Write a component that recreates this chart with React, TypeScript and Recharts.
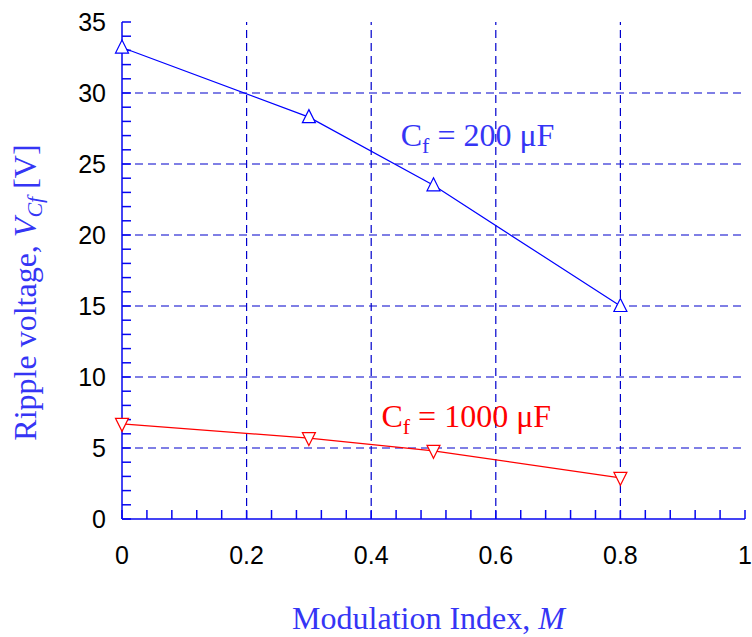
import { LineChart, Line, XAxis, YAxis, ReferenceLine, ReferenceDot } from "recharts"

if (typeof document !== "undefined") document.body.style.margin = "0"

// modulation index M and ripple voltage for each filter capacitor
const modIndex = [0, 0.3, 0.5, 0.8]
const ripple200 = [33.2, 28.3, 23.5, 15.0]
const ripple1000 = [6.7, 5.7, 4.8, 2.9]

const xMajor = [0, 0.2, 0.4, 0.6, 0.8, 1]
const yMajor = [0, 5, 10, 15, 20, 25, 30, 35]
const xMinor = Array.from({ length: 26 }, (_, i) => Math.round(i * 4) / 100)
const yMinor = Array.from({ length: 36 }, (_, i) => i)

const data = modIndex.map((m, i) => ({ m, c200: ripple200[i], c1000: ripple1000[i] }))

const AXIS = "#0606f0"
const GRID = "#0000cc"
const BLUE = "#0000ff"
const RED = "#ff0000"
const TITLE = "#3535f5"
const SERIF = "'Liberation Serif', 'Times New Roman', serif"
const SANS = "'Liberation Sans', Arial, sans-serif"

const isMajor = (list: number[], v: number) => list.some((t) => Math.abs(t - v) < 1e-6)

function XTick(props: any) {
  const { x, y, payload } = props
  if (!isMajor(xMajor, payload.value)) return <g />
  return (
    <text x={x} y={y} dy="0.36em" textAnchor="middle" fill="#000" fontSize={25} fontFamily={SANS}>
      {String(payload.value)}
    </text>
  )
}

function YTick(props: any) {
  const { x, y, payload } = props
  if (!isMajor(yMajor, payload.value)) return <g />
  return (
    <text x={x} y={y} dy="0.36em" textAnchor="end" fill="#000" fontSize={25} fontFamily={SANS}>
      {String(payload.value)}
    </text>
  )
}

function XTitle(props: any) {
  const vb = props.viewBox
  return (
    <text x={vb.x + vb.width / 2 - 5} y={vb.y + 110} textAnchor="middle" fill={TITLE} fontSize={32} fontFamily={SERIF}>
      Modulation Index, <tspan fontStyle="italic">M</tspan>
    </text>
  )
}

function YTitle(props: any) {
  const vb = props.viewBox
  const cy = vb.y + vb.height / 2 + 22
  return (
    <text x={36} y={cy} transform={`rotate(-90, 36, ${cy})`} textAnchor="middle" fill={TITLE} fontSize={32} fontFamily={SERIF}>
      Ripple voltage, <tspan fontStyle="italic">V</tspan>
      <tspan fontStyle="italic" fontSize={22} dy={6}>Cf</tspan>
      <tspan dy={-6}>{"  [V]"}</tspan>
    </text>
  )
}

function Annotation({ viewBox, color, text }: any) {
  return (
    <text x={viewBox.x} y={viewBox.y} fill={color} fontSize={32} fontFamily={SERIF}>
      C<tspan fontSize={22} dy={7}>f</tspan>
      <tspan dy={-7}>{` = ${text} μF`}</tspan>
    </text>
  )
}

function TriUp(props: any) {
  const { cx, cy } = props
  return <path d={`M${cx},${cy - 7.5} L${cx + 6.5},${cy + 5.5} L${cx - 6.5},${cy + 5.5} Z`} fill="#fff" stroke={BLUE} strokeWidth={1.2} />
}

function TriDown(props: any) {
  const { cx, cy } = props
  return <path d={`M${cx},${cy + 7.5} L${cx + 6.5},${cy - 5.5} L${cx - 6.5},${cy - 5.5} Z`} fill="#fff" stroke={RED} strokeWidth={1.2} />
}

export default function App() {
  return (
    <LineChart width={752} height={637} data={data} margin={{ top: 22, right: 7, left: 0, bottom: 0 }}>
      <XAxis
        xAxisId="x"
        dataKey="m"
        type="number"
        domain={[0, 1]}
        ticks={xMinor}
        interval={0}
        height={118}
        tickSize={-9}
        tickMargin={45}
        tick={<XTick />}
        stroke={AXIS}
        strokeWidth={1.5}
        label={<XTitle />}
      />
      <XAxis
        xAxisId="xt"
        orientation="top"
        type="number"
        domain={[0, 1]}
        ticks={xMinor}
        interval={0}
        height={0}
        tickSize={-9}
        tick={false}
        stroke={AXIS}
        strokeWidth={1.5}
      />
      <YAxis
        yAxisId="y"
        type="number"
        domain={[0, 35]}
        ticks={yMinor}
        interval={0}
        width={122}
        tickSize={-9}
        tickMargin={25}
        tick={<YTick />}
        stroke={AXIS}
        strokeWidth={1.5}
        label={<YTitle />}
      />
      <YAxis
        yAxisId="yr"
        orientation="right"
        type="number"
        domain={[0, 35]}
        ticks={yMinor}
        interval={0}
        width={0}
        tickSize={-9}
        tick={false}
        stroke={AXIS}
        strokeWidth={1.5}
      />
      {xMajor.slice(1, -1).map((v) => (
        <ReferenceLine key={`vx${v}`} xAxisId="x" yAxisId="y" x={v} stroke={GRID} strokeDasharray="8 5" strokeWidth={1.2} />
      ))}
      {yMajor.slice(1, -1).map((v) => (
        <ReferenceLine key={`hy${v}`} xAxisId="x" yAxisId="y" y={v} stroke={GRID} strokeDasharray="8 5" strokeWidth={1.2} />
      ))}
      <ReferenceDot
        xAxisId="x"
        yAxisId="y"
        x={0.449}
        y={26.2}
        r={1}
        fill="none"
        stroke="none"
        label={(p: any) => <Annotation viewBox={p.viewBox} color={TITLE} text="200" />}
      />
      <ReferenceDot
        xAxisId="x"
        yAxisId="y"
        x={0.418}
        y={6.4}
        r={1}
        fill="none"
        stroke="none"
        label={(p: any) => <Annotation viewBox={p.viewBox} color={RED} text="1000" />}
      />
      <Line
        xAxisId="x"
        yAxisId="y"
        dataKey="c200"
        stroke={BLUE}
        strokeWidth={1.2}
        dot={<TriUp />}
        isAnimationActive={false}
      />
      <Line
        xAxisId="x"
        yAxisId="y"
        dataKey="c1000"
        stroke={RED}
        strokeWidth={1.2}
        dot={<TriDown />}
        isAnimationActive={false}
      />
    </LineChart>
  )
}
